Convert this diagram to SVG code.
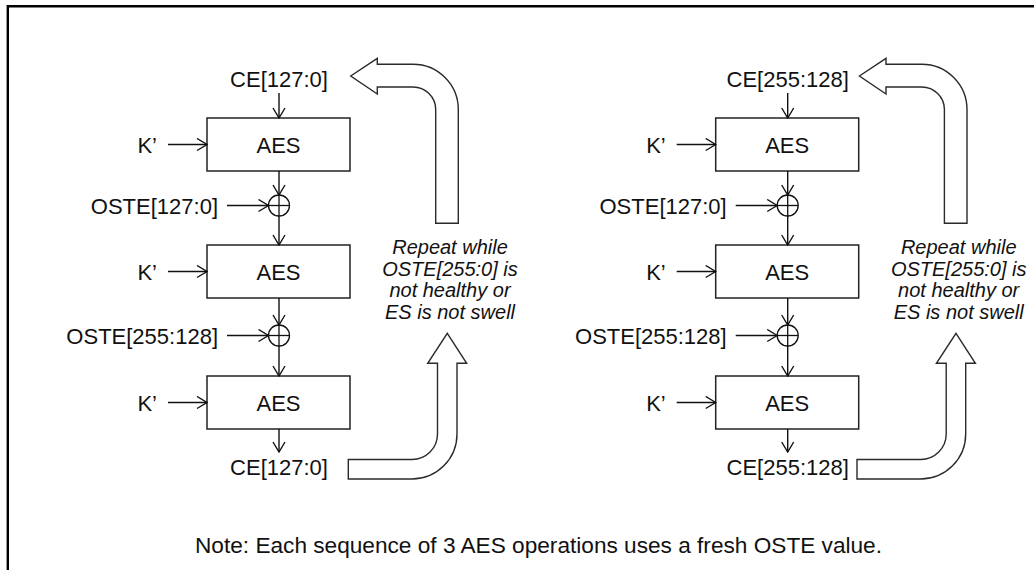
<svg xmlns="http://www.w3.org/2000/svg" width="1034" height="570" viewBox="0 0 1034 570">
<style>
  .lbl { font-family: "Liberation Sans", Arial, sans-serif; font-size: 22px; fill: #111; }
  .mid { text-anchor: middle; }
  .end { text-anchor: end; }
  .note { font-family: "Liberation Sans", Arial, sans-serif; font-size: 20px; font-style: italic; fill: #111; text-anchor: middle; }
  .box { fill: #fff; stroke: #222; stroke-width: 1.5; }
  .wire { fill: none; stroke: #111; stroke-width: 1.4; marker-end: url(#chev); }
  .xor { fill: #fff; stroke: #111; stroke-width: 1.3; }
  .xl { stroke: #111; stroke-width: 1.3; }
  .big { fill: #fff; stroke: #2a2a2a; stroke-width: 1.4; stroke-linejoin: miter; }
</style>
<defs>
  <marker id="chev" markerUnits="userSpaceOnUse" viewBox="-11 -7 12 14" refX="0" refY="0" markerWidth="12" markerHeight="14" orient="auto">
    <path d="M-10,-6 L0,0 L-10,6" fill="none" stroke="#111" stroke-width="1.4"/>
  </marker>
  <path id="loopTop" d="M350.7,76 L377.3,58.3 L377.3,64.3 L413,64.3 A45.3,45.3 0 0 1 458.3,109.6 L458.3,223.3 L435.7,223.3 L435.7,109.6 A22.7,22.7 0 0 0 413,87 L377.3,87 L377.3,94 Z"/>
  <path id="loopBot" d="M447.3,333.3 L466.7,363.3 L457,363.3 L457,434 A45,45 0 0 1 412,479 L348.3,479 L348.3,459.5 L412,459.5 A25.5,25.5 0 0 0 437.5,434 L437.5,363.3 L427.7,363.3 Z"/>
</defs>

<rect width="1034" height="570" fill="#fff"/>
<path d="M7.8,570 V6.2 H1034" fill="none" stroke="#000" stroke-width="2.4"/>

<!-- Left column -->
<g id="left-column">
  <g id="L-ce-in"><text class="lbl mid" x="279" y="87">CE[127:0]</text></g>
  <g id="L-aes1">
    <rect class="box" x="207" y="118" width="143" height="53"/>
    <text class="lbl mid" x="278.5" y="152.5">AES</text>
  </g>
  <g id="L-k1"><text class="lbl end" x="157" y="152.5">K’</text></g>
  <g id="L-xor1">
    <circle class="xor" cx="279" cy="205.5" r="10.5"/>
    <line class="xl" x1="268.5" y1="205.5" x2="289.5" y2="205.5"/>
    <line class="xl" x1="279" y1="195" x2="279" y2="216"/>
  </g>
  <g id="L-oste1"><text class="lbl end" x="218" y="213.5">OSTE[127:0]</text></g>
  <g id="L-aes2">
    <rect class="box" x="207" y="245" width="143" height="53"/>
    <text class="lbl mid" x="278.5" y="279.5">AES</text>
  </g>
  <g id="L-k2"><text class="lbl end" x="157" y="279.5">K’</text></g>
  <g id="L-xor2">
    <circle class="xor" cx="279" cy="335.5" r="10.5"/>
    <line class="xl" x1="268.5" y1="335.5" x2="289.5" y2="335.5"/>
    <line class="xl" x1="279" y1="325" x2="279" y2="346"/>
  </g>
  <g id="L-oste2"><text class="lbl end" x="218" y="343.5">OSTE[255:128]</text></g>
  <g id="L-aes3">
    <rect class="box" x="207" y="376" width="143" height="53"/>
    <text class="lbl mid" x="278.5" y="410.5">AES</text>
  </g>
  <g id="L-k3"><text class="lbl end" x="157" y="410.5">K’</text></g>
  <g id="L-ce-out"><text class="lbl mid" x="279" y="475">CE[127:0]</text></g>
  <g id="L-loop">
    <use href="#loopTop" class="big"/>
    <use href="#loopBot" class="big"/>
    <text class="note" x="450" y="254">Repeat while</text>
    <text class="note" x="450" y="275.7">OSTE[255:0] is</text>
    <text class="note" x="450" y="297.3">not healthy or</text>
    <text class="note" x="450" y="319">ES is not swell</text>
  </g>
</g>

<!-- Right column -->
<g id="right-column" transform="translate(508.7,0)">
  <g id="R-ce-in"><text class="lbl mid" x="279" y="87">CE[255:128]</text></g>
  <g id="R-aes1">
    <rect class="box" x="207" y="118" width="143" height="53"/>
    <text class="lbl mid" x="278.5" y="152.5">AES</text>
  </g>
  <g id="R-k1"><text class="lbl end" x="157" y="152.5">K’</text></g>
  <g id="R-xor1">
    <circle class="xor" cx="279" cy="205.5" r="10.5"/>
    <line class="xl" x1="268.5" y1="205.5" x2="289.5" y2="205.5"/>
    <line class="xl" x1="279" y1="195" x2="279" y2="216"/>
  </g>
  <g id="R-oste1"><text class="lbl end" x="218" y="213.5">OSTE[127:0]</text></g>
  <g id="R-aes2">
    <rect class="box" x="207" y="245" width="143" height="53"/>
    <text class="lbl mid" x="278.5" y="279.5">AES</text>
  </g>
  <g id="R-k2"><text class="lbl end" x="157" y="279.5">K’</text></g>
  <g id="R-xor2">
    <circle class="xor" cx="279" cy="335.5" r="10.5"/>
    <line class="xl" x1="268.5" y1="335.5" x2="289.5" y2="335.5"/>
    <line class="xl" x1="279" y1="325" x2="279" y2="346"/>
  </g>
  <g id="R-oste2"><text class="lbl end" x="218" y="343.5">OSTE[255:128]</text></g>
  <g id="R-aes3">
    <rect class="box" x="207" y="376" width="143" height="53"/>
    <text class="lbl mid" x="278.5" y="410.5">AES</text>
  </g>
  <g id="R-k3"><text class="lbl end" x="157" y="410.5">K’</text></g>
  <g id="R-ce-out"><text class="lbl mid" x="279" y="475">CE[255:128]</text></g>
  <g id="R-loop">
    <use href="#loopTop" class="big"/>
    <use href="#loopBot" class="big"/>
    <text class="note" x="450" y="254">Repeat while</text>
    <text class="note" x="450" y="275.7">OSTE[255:0] is</text>
    <text class="note" x="450" y="297.3">not healthy or</text>
    <text class="note" x="450" y="319">ES is not swell</text>
  </g>
</g>

<!-- Connectors -->
<g id="connectors">
  <g id="L-wires">
    <line class="wire" x1="279" y1="93" x2="279" y2="118"/>
    <line class="wire" x1="168" y1="144.5" x2="207" y2="144.5"/>
    <line class="wire" x1="279" y1="171" x2="279" y2="195"/>
    <line class="wire" x1="227" y1="205.5" x2="268.5" y2="205.5"/>
    <line class="wire" x1="279" y1="216" x2="279" y2="245"/>
    <line class="wire" x1="168" y1="271.5" x2="207" y2="271.5"/>
    <line class="wire" x1="279" y1="298" x2="279" y2="325"/>
    <line class="wire" x1="227" y1="335.5" x2="268.5" y2="335.5"/>
    <line class="wire" x1="279" y1="346" x2="279" y2="376"/>
    <line class="wire" x1="168" y1="402.5" x2="207" y2="402.5"/>
    <line class="wire" x1="279" y1="429" x2="279" y2="452"/>
  </g>
  <g id="R-wires" transform="translate(508.7,0)">
    <line class="wire" x1="279" y1="93" x2="279" y2="118"/>
    <line class="wire" x1="168" y1="144.5" x2="207" y2="144.5"/>
    <line class="wire" x1="279" y1="171" x2="279" y2="195"/>
    <line class="wire" x1="227" y1="205.5" x2="268.5" y2="205.5"/>
    <line class="wire" x1="279" y1="216" x2="279" y2="245"/>
    <line class="wire" x1="168" y1="271.5" x2="207" y2="271.5"/>
    <line class="wire" x1="279" y1="298" x2="279" y2="325"/>
    <line class="wire" x1="227" y1="335.5" x2="268.5" y2="335.5"/>
    <line class="wire" x1="279" y1="346" x2="279" y2="376"/>
    <line class="wire" x1="168" y1="402.5" x2="207" y2="402.5"/>
    <line class="wire" x1="279" y1="429" x2="279" y2="452"/>
  </g>
</g>

<g id="footnote">
  <text class="lbl" x="195" y="552.5" textLength="687" lengthAdjust="spacingAndGlyphs">Note: Each sequence of 3 AES operations uses a fresh OSTE value.</text>
</g>
</svg>
